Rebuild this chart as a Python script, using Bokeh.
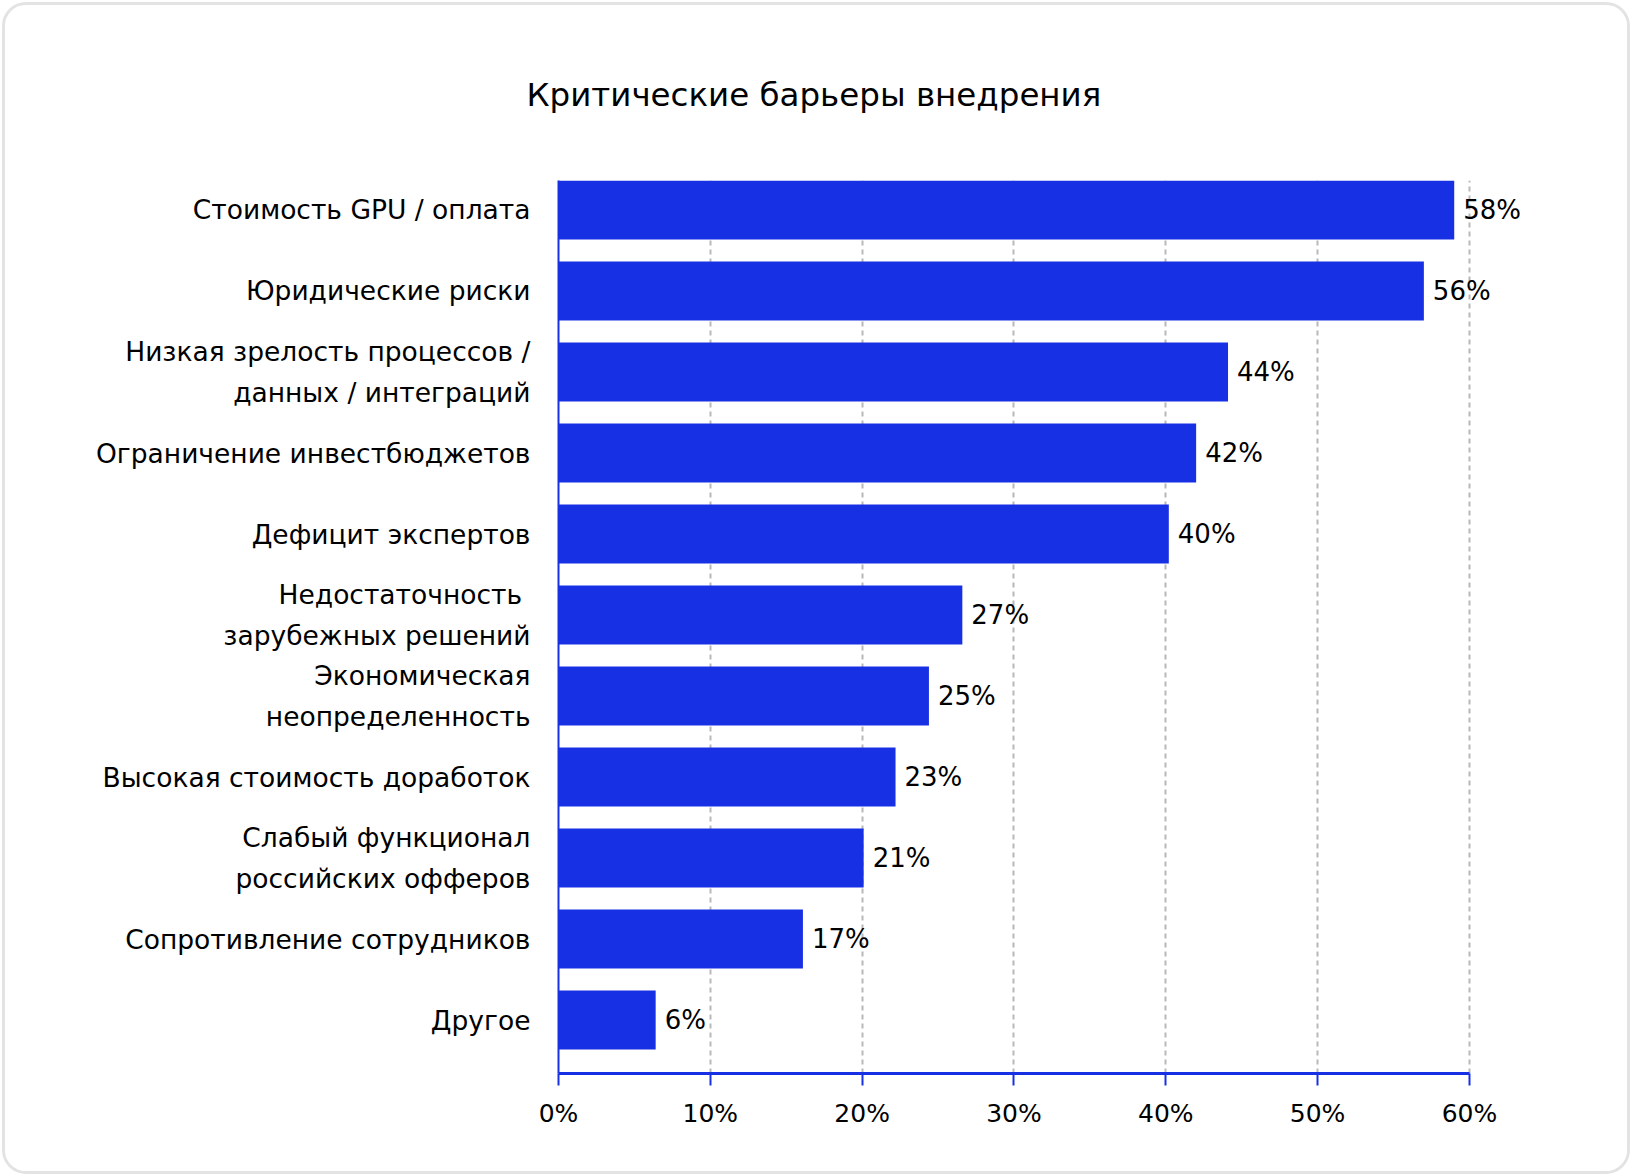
from bokeh.plotting import figure
from bokeh.models import Range1d, FixedTicker, ColumnDataSource, LabelSet, Title
from bokeh.core.properties import value
from bokeh.embed import file_html
from bokeh.resources import INLINE

# ---------------- data ----------------
title_text = "Критические барьеры внедрения"
categories = [
    "Стоимость GPU / оплата",
    "Юридические риски",
    "Низкая зрелость процессов /\nданных / интеграций",
    "Ограничение инвестбюджетов",
    "Дефицит экспертов",
    "Недостаточность \nзарубежных решений",
    "Экономическая\nнеопределенность",
    "Высокая стоимость доработок",
    "Слабый функционал\nроссийских офферов",
    "Сопротивление сотрудников",
    "Другое",
]
bar_values = [59.0, 57.0, 44.1, 42.0, 40.2, 26.6, 24.4, 22.2, 20.1, 16.1, 6.4]
value_labels = ["58%", "56%", "44%", "42%", "40%", "27%", "25%", "23%", "21%", "17%", "6%"]
x_ticks = [0, 10, 20, 30, 40, 50, 60]
x_tick_labels = ["0%", "10%", "20%", "30%", "40%", "50%", "60%"]

# ---------------- style ----------------
FONT = "DejaVu Sans"
BLUE = "#1830E3"
BORDER = 3
MARGIN = 2
OFF = BORDER + MARGIN          # page offset of the canvas
W, H = 1632 - 2 * MARGIN, 1176 - 2 * MARGIN
n = len(categories)
ypos = list(range(n - 1, -1, -1))  # top category drawn at the top

source = ColumnDataSource(dict(y=ypos, v=bar_values, lab=value_labels, cat=categories))

p = figure(
    width=W, height=H,
    x_range=Range1d(0, 66), y_range=Range1d(-0.66, n - 1 + 0.364),
    output_backend="svg", toolbar_location=None,
    min_border_left=558 - OFF, min_border_right=W - (1560 - OFF),
    min_border_top=180 - OFF, min_border_bottom=H - (1073 - OFF),
    title=None,
)
p.styles = {"border": f"{BORDER}px solid #e3e3e3", "border-radius": "24px",
            "overflow": "hidden", "margin": f"{MARGIN}px"}
p.outline_line_color = None
p.background_fill_color = "white"
p.border_fill_color = "white"

# title
t = Title(text=title_text, align="left", offset=-32,
          text_font=FONT, text_font_size="32.5px", text_font_style="normal",
          text_color="#000000")
try:
    t.standoff = 133
except Exception:
    pass
p.add_layout(t, "above")

p.hbar(y="y", left=0, right="v", height=0.728, source=source,
       fill_color=BLUE, line_color=None)

labels = LabelSet(x="v", y="y", text="lab", source=source, x_offset=9,
                  text_baseline="middle", text_align="left",
                  text_font=value(FONT), text_font_size="26px", text_color="#000000")
p.add_layout(labels)

# x axis
xa = p.xaxis[0]
xa.bounds = (0, 60)
xa.ticker = FixedTicker(ticks=x_ticks)
xa.major_label_overrides = {t_: s for t_, s in zip(x_ticks, x_tick_labels)}
xa.axis_line_color = BLUE
xa.axis_line_width = 3
xa.major_tick_line_color = BLUE
xa.major_tick_line_width = 2
xa.major_tick_in = 0
xa.major_tick_out = 12
xa.minor_tick_line_color = None
xa.major_label_standoff = 13
xa.major_label_text_font = FONT
xa.major_label_text_font_size = "25px"
xa.major_label_text_color = "#000000"

# y axis
ya = p.yaxis[0]
ya.ticker = FixedTicker(ticks=ypos)
ya.major_label_overrides = {y: c for y, c in zip(ypos, categories)}
ya.axis_line_color = BLUE
ya.axis_line_width = 2
ya.major_tick_line_color = None
ya.major_tick_in = 0
ya.major_tick_out = 0
ya.minor_tick_line_color = None
ya.major_label_standoff = 28
ya.major_label_text_font = FONT
ya.major_label_text_font_size = "26.5px"
ya.major_label_text_color = "#000000"
ya.major_label_text_line_height = 1.3

# grid
p.ygrid.grid_line_color = None
p.xgrid.ticker = FixedTicker(ticks=x_ticks[1:])
p.xgrid.grid_line_color = "#b8b8b8"
p.xgrid.grid_line_width = 2
p.xgrid.grid_line_dash = "5 4"

open("out.html", "w").write(file_html(p, INLINE))
